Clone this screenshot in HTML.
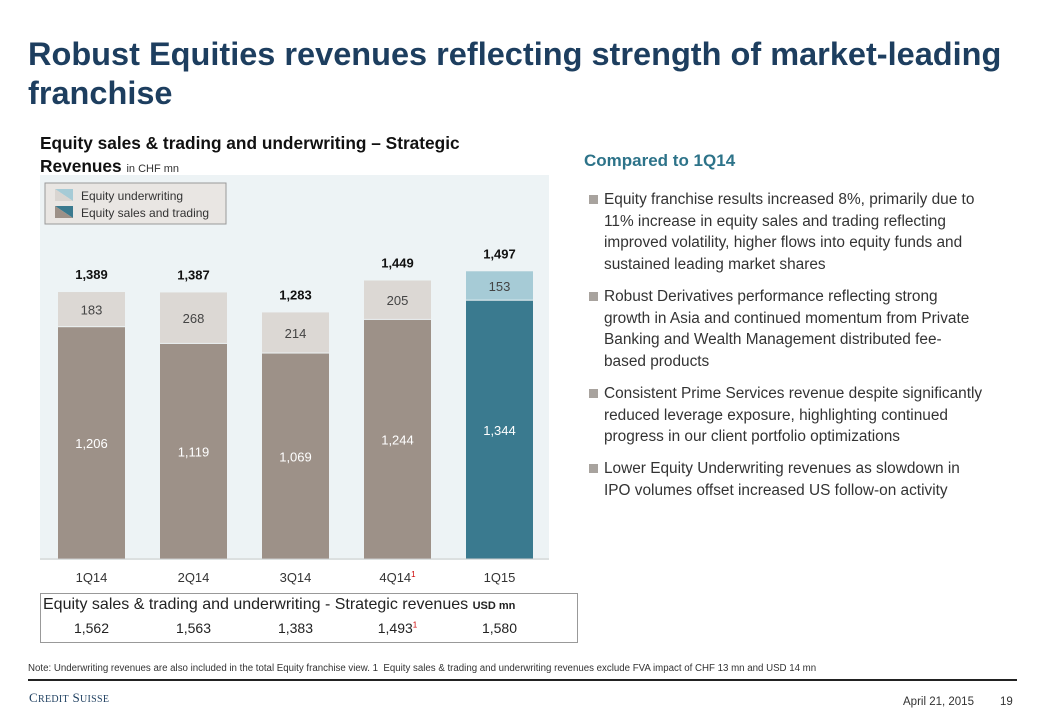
<!DOCTYPE html>
<html><head><meta charset="utf-8"><style>
body{margin:0;width:1040px;height:720px;background:#fff;font-family:"Liberation Sans",sans-serif;position:relative;overflow:hidden}
.a{position:absolute}
#title{left:28px;top:35px;font-size:32.5px;font-weight:bold;color:#1d3e5f;line-height:39px;width:1010px;white-space:nowrap}
#ctitle{left:40px;top:132px;font-size:17.3px;font-weight:bold;color:#111;line-height:23px;white-space:nowrap}
#ctitle small{font-weight:normal;font-size:11px;color:#333}
.bl{left:589px;font-size:15.4px;color:#333;line-height:21.5px;padding-left:15px;white-space:nowrap}
.bl:before{content:"";position:absolute;left:0;top:6px;width:9px;height:9px;background:#a8a39e}
</style></head><body>
<div class="a" id="title">Robust Equities revenues reflecting strength of market-leading<br>franchise</div>
<div class="a" id="ctitle">Equity sales &amp; trading and underwriting – Strategic<br>Revenues <small>in CHF mn</small></div>
<svg class="a" style="left:0;top:0" width="560" height="600">
<rect x="40" y="175" width="509" height="385" fill="#edf3f5"/>
<g id="bars"></g>
<line x1="40" y1="559" x2="549" y2="559" stroke="#ccc"/>
<g>
<rect x="45" y="183" width="181" height="41" fill="#e9e6e3" stroke="#999"/>
<polygon points="55,189 73,189 73,201" fill="#a6cbd6"/><polygon points="55,189 73,201 55,201" fill="#d9d5d1"/>
<polygon points="55,206 73,206 73,218" fill="#3a7a8f"/><polygon points="55,206 73,218 55,218" fill="#9d9188"/>
<text x="81" y="200" font-size="12" fill="#333">Equity underwriting</text>
<text x="81" y="217" font-size="12" fill="#333">Equity sales and trading</text>
</g>
</svg>
<div class="a" style="left:40px;top:593px;width:536px;height:48px;border:1px solid #999">
<div class="a" style="left:2px;top:2px;font-size:16px;color:#222;white-space:nowrap">Equity sales &amp; trading and underwriting - Strategic revenues <b style="font-size:11px">USD mn</b></div>
<div id="usd"></div>
</div>
<div class="a" style="left:584px;top:151px;font-size:17px;font-weight:bold;color:#2d7389">Compared to 1Q14</div>
<div class="a bl" style="top:189px">Equity franchise results increased 8%, primarily due to<br>11% increase in equity sales and trading reflecting<br>improved volatility, higher flows into equity funds and<br>sustained leading market shares</div>
<div class="a bl" style="top:286px">Robust Derivatives performance reflecting strong<br>growth in Asia and continued momentum from Private<br>Banking and Wealth Management distributed fee-<br>based products</div>
<div class="a bl" style="top:383px">Consistent Prime Services revenue despite significantly<br>reduced leverage exposure, highlighting continued<br>progress in our client portfolio optimizations</div>
<div class="a bl" style="top:458px">Lower Equity Underwriting revenues as slowdown in<br>IPO volumes offset increased US follow-on activity</div>
<div class="a" style="left:28px;top:663px;font-size:9.7px;color:#333;white-space:nowrap">Note: Underwriting revenues are also included in the total Equity franchise view. 1&nbsp; Equity sales &amp; trading and underwriting revenues exclude FVA impact of CHF 13 mn and USD 14 mn</div>
<div class="a" style="left:28px;top:679px;width:989px;height:2px;background:#222"></div>
<div class="a" style="left:29px;top:690px;font-family:'Liberation Serif',serif;font-size:13px;color:#1d3e5f;letter-spacing:0.3px">C<span style="font-size:10px">REDIT</span> S<span style="font-size:10px">UISSE</span></div>
<div class="a" style="left:903px;top:696px;font-size:11.5px;color:#333">April 21, 2015</div>
<div class="a" style="left:1000px;top:696px;font-size:11.5px;color:#333">19</div>
<script>
const categories=["1Q14","2Q14","3Q14","4Q14","1Q15"];
const salesTrading=[1206,1119,1069,1244,1344];
const underwriting=[183,268,214,205,153];
const totals=[1389,1387,1283,1449,1497];
const usdValues=["1,562","1,563","1,383","1,493","1,580"];
const footnoted=[false,false,false,true,false];
const NS="http://www.w3.org/2000/svg";
const base=559,scale=0.1922,x0=58,step=102,bw=67;
const y=v=>base-v*scale;
const fmt=v=>v.toLocaleString("en-US");
const g=document.getElementById("bars");
function mk(tag,attrs,txt){const e=document.createElementNS(NS,tag);for(const k in attrs)e.setAttribute(k,attrs[k]);if(txt!=null)e.textContent=txt;g.appendChild(e);return e;}
categories.forEach((c,i)=>{
  const x=x0+i*step,last=i===categories.length-1;
  const s=salesTrading[i],u=underwriting[i];
  const r1=mk("rect",{x:x,y:y(s),width:bw,height:s*scale,fill:last?"#3a7a8f":"#9d9188"});
  
  
  const r2=mk("rect",{x:x,y:y(s+u),width:bw,height:u*scale-1,fill:last?"#a6cbd6":"#dcd8d4"});
  
  
  const t1=mk("text",{x:x+bw/2,y:(y(s)+base)/2+5,"text-anchor":"middle","font-size":13,fill:"#fff"},fmt(s));
  
  
  const t2=mk("text",{x:x+bw/2,y:(y(s)+y(s+u))/2+5,"text-anchor":"middle","font-size":13,fill:"#444"},fmt(u));
  
  
  const t3=mk("text",{x:x+bw/2,y:y(totals[i])-13,"text-anchor":"middle","font-size":13,"font-weight":"bold",fill:"#111"},fmt(totals[i]));
  
  
  const t4=mk("text",{x:x+bw/2,y:582,"text-anchor":"middle","font-size":13,fill:"#333"},c);
  
  
  if(footnoted[i]){const f=mk("tspan",{"font-size":8,fill:"#c00",dy:-5},"1");t4.appendChild(f);}
});
const u=document.getElementById("usd");
usdValues.forEach((v,i)=>{
  const d=document.createElement("div");
  d.className="a";
  
  
  d.style.cssText="top:26px;width:80px;text-align:center;font-size:14px;color:#222;left:"+(x0+i*step+bw/2-40-41)+"px";
  d.innerHTML=v+(footnoted[i]?'<sup style="color:#c00;font-size:8px">1</sup>':'');
  u.appendChild(d);
});
</script>
</body></html>
